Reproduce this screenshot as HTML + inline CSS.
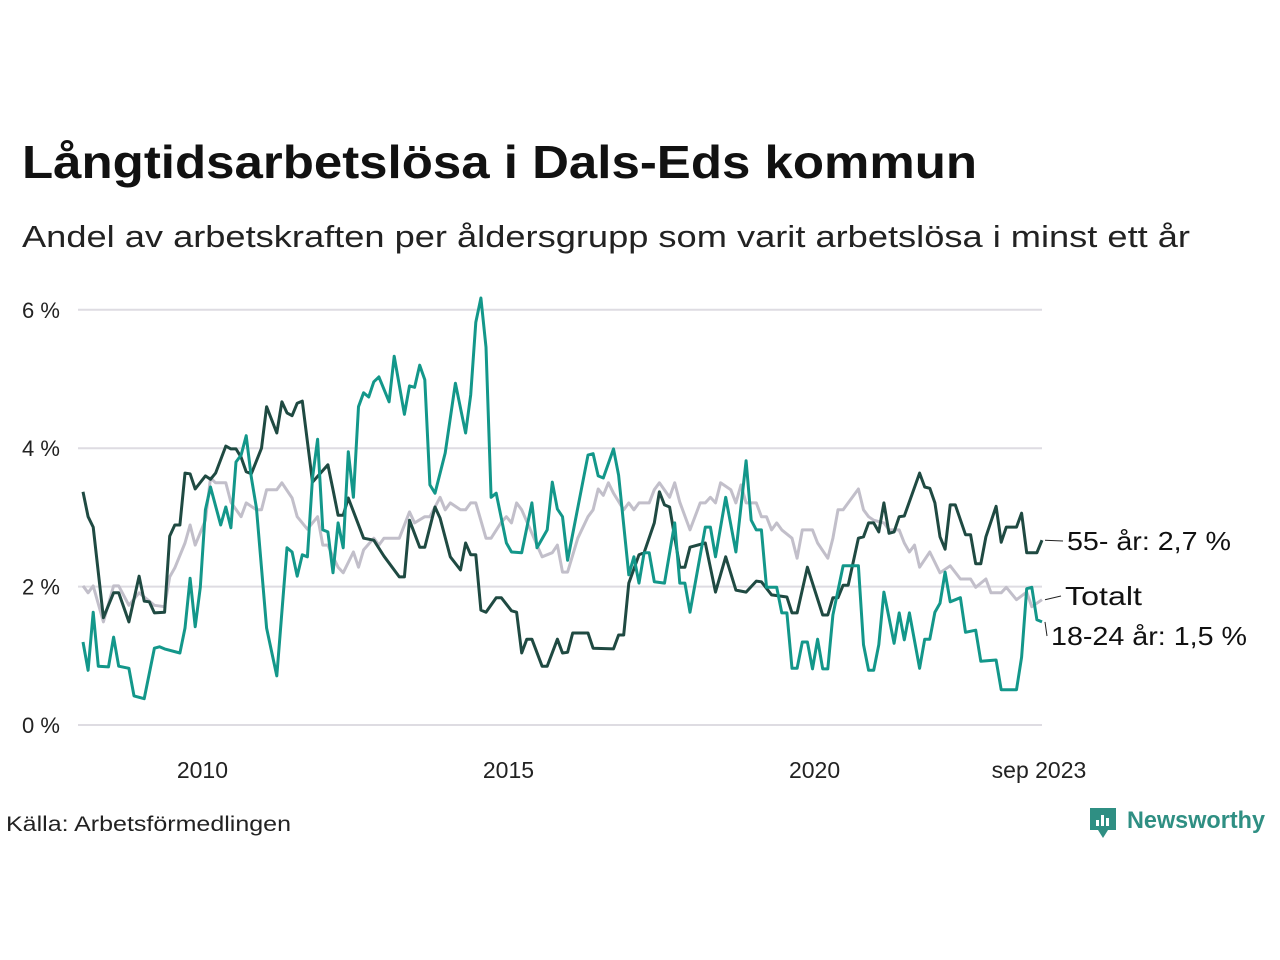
<!DOCTYPE html>
<html><head><meta charset="utf-8">
<style>
html,body{margin:0;padding:0;background:#fff;}
svg{display:block;font-family:"Liberation Sans",sans-serif;}
</style></head>
<body>
<svg id="chart" width="1280" height="960" viewBox="0 0 1280 960">
<text x="22" y="178" font-size="46" font-weight="bold" fill="#111" textLength="955" lengthAdjust="spacingAndGlyphs">Långtidsarbetslösa i Dals-Eds kommun</text>
<text x="22" y="247" font-size="31" fill="#222" textLength="1168" lengthAdjust="spacingAndGlyphs">Andel av arbetskraften per åldersgrupp som varit arbetslösa i minst ett år</text>
<g id="grid"></g>
<g id="axes"></g>
<g id="series"></g>
<g id="labels"></g>
<text x="6" y="831" font-size="21" fill="#222" textLength="285" lengthAdjust="spacingAndGlyphs">Källa: Arbetsförmedlingen</text>
<g>
  <path d="M1090 808 h26 v22 h-8 l-5 8 l-5 -8 h-8 z" fill="#2f8f83"/>
  <rect x="1096" y="820" width="3" height="6" fill="#fff"/>
  <rect x="1101" y="815" width="3" height="11" fill="#fff"/>
  <rect x="1106" y="818" width="3" height="8" fill="#fff"/>
  <text x="1127" y="828" font-size="24" font-weight="bold" fill="#2f8f83" textLength="138" lengthAdjust="spacingAndGlyphs">Newsworthy</text>
</g>
<script>
const yTicks=[0,2,4,6];
const yTickLabels=["0 %","2 %","4 %","6 %"];
const xTickMonths=[24,84,144,188];
const xTickLabels=["2010","2015","2020","sep 2023"];
const monthsOld=[0,1,2,4,6,7,9,11,12,13,14,16,17,18,19,20,21,22,24,25,26,28,29,30,31,32,33,35,36,38,39,40,41,42,43,45,48,49,50,51,52,55,57,59,62,63,64,66,67,69,70,72,74,75,76,77,78,79,81,82,84,85,86,87,88,90,91,93,94,95,96,99,100,104,105,106,107,109,110,112,113,114,115,117,118,119,122,124,126,128,130,132,133,135,138,139,140,142,145,146,147,148,149,150,152,153,154,155,156,157,158,159,160,161,164,165,166,167,168,169,170,171,173,174,175,176,177,179,180,181,183,184,185,187,188];
const valuesOld=[3.37,3.01,2.86,1.55,1.91,1.91,1.49,2.15,1.79,1.78,1.62,1.63,2.73,2.89,2.89,3.64,3.63,3.41,3.60,3.55,3.64,4.03,3.99,3.99,3.87,3.66,3.63,4.00,4.60,4.22,4.67,4.51,4.47,4.65,4.68,3.51,3.76,3.40,3.03,3.03,3.28,2.70,2.67,2.44,2.14,2.14,2.96,2.57,2.57,3.15,2.99,2.43,2.24,2.63,2.46,2.46,1.66,1.63,1.84,1.84,1.65,1.63,1.04,1.24,1.24,0.85,0.85,1.24,1.04,1.05,1.33,1.33,1.11,1.10,1.30,1.30,2.05,2.46,2.49,2.92,3.37,3.18,3.15,2.28,2.28,2.57,2.63,1.92,2.43,1.95,1.92,2.08,2.07,1.88,1.85,1.62,1.62,2.28,1.59,1.59,1.84,1.84,2.02,2.02,2.70,2.72,2.92,2.92,2.79,3.21,2.77,2.79,3.01,3.02,3.64,3.44,3.42,3.21,2.72,2.54,3.18,3.18,2.75,2.75,2.33,2.33,2.72,3.16,2.64,2.86,2.86,3.06,2.49,2.49,2.67];
const monthsTotal=[0,1,2,4,6,7,9,11,14,16,17,18,20,21,22,24,25,26,28,29,31,32,34,35,36,38,39,41,42,44,46,47,48,49,50,51,53,54,55,57,58,59,62,64,65,67,68,70,71,72,74,75,76,77,79,80,82,83,84,85,86,90,92,93,94,95,97,99,100,101,102,103,104,106,107,108,109,111,112,113,115,116,117,119,121,122,123,124,125,127,128,129,130,132,133,134,135,136,137,139,140,141,143,144,146,147,148,149,152,153,154,155,157,158,160,161,162,163,164,166,168,170,172,174,175,177,178,180,181,183,185,186,188];
const valuesTotal=[2.01,1.91,2.01,1.49,2.01,2.01,1.73,1.91,1.73,1.71,2.14,2.27,2.63,2.89,2.60,2.96,3.57,3.50,3.50,3.22,3.01,3.21,3.11,3.11,3.40,3.40,3.50,3.28,3.01,2.83,3.01,2.60,2.60,2.43,2.28,2.20,2.50,2.28,2.53,2.70,2.60,2.70,2.70,3.08,2.92,3.01,3.01,3.29,3.11,3.21,3.11,3.11,3.21,3.21,2.70,2.70,2.93,3.01,2.92,3.21,3.11,2.43,2.49,2.60,2.21,2.21,2.70,3.01,3.11,3.41,3.32,3.50,3.35,3.11,3.21,3.11,3.21,3.21,3.40,3.50,3.29,3.50,3.22,2.82,3.21,3.21,3.29,3.21,3.50,3.40,3.21,3.47,3.21,3.21,3.01,3.01,2.82,2.92,2.82,2.70,2.41,2.82,2.82,2.63,2.41,2.70,3.11,3.11,3.41,3.11,3.01,2.96,2.92,2.82,2.82,2.63,2.50,2.60,2.28,2.50,2.20,2.30,2.11,2.11,1.99,2.11,1.91,1.91,1.99,1.81,1.92,1.71,1.81];
const monthsYoung=[0,1,2,3,5,6,7,9,10,12,14,15,16,19,20,21,22,23,24,25,27,28,29,30,31,32,33,34,36,38,40,41,42,43,44,45,46,47,48,49,50,51,52,53,54,55,56,57,58,60,61,63,64,65,66,67,68,69,71,73,75,76,77,78,79,80,81,83,84,86,88,89,91,92,93,94,95,99,100,101,102,104,105,107,108,109,110,111,112,114,116,117,118,119,122,123,124,126,128,130,131,132,133,134,136,137,138,139,140,141,142,143,144,145,146,147,149,152,153,154,155,156,157,159,160,161,162,164,165,166,167,168,169,170,172,173,175,176,179,180,183,184,185,186,187,188];
const valuesYoung=[1.20,0.79,1.63,0.85,0.84,1.27,0.85,0.82,0.42,0.38,1.11,1.13,1.10,1.04,1.40,2.12,1.42,1.99,3.11,3.44,2.89,3.15,2.85,3.80,3.90,4.18,3.58,3.14,1.40,0.71,2.56,2.50,2.15,2.46,2.43,3.57,4.13,2.82,2.79,2.20,2.92,2.56,3.95,3.29,4.60,4.80,4.74,4.96,5.03,4.67,5.33,4.49,4.90,4.88,5.20,4.99,3.47,3.35,3.93,4.94,4.22,4.77,5.82,6.17,5.46,3.29,3.35,2.63,2.50,2.49,3.21,2.56,2.82,3.51,3.12,3.01,2.38,3.90,3.92,3.60,3.57,3.99,3.61,2.17,2.43,2.05,2.49,2.49,2.07,2.05,2.92,2.05,2.05,1.63,2.86,2.86,2.43,3.29,2.50,3.82,2.96,2.82,2.82,1.99,1.99,1.62,1.62,0.82,0.82,1.20,1.20,0.81,1.24,0.81,0.81,1.59,2.30,2.30,1.16,0.79,0.79,1.16,1.92,1.18,1.62,1.23,1.62,0.82,1.24,1.24,1.63,1.76,2.21,1.78,1.84,1.34,1.37,0.92,0.94,0.51,0.51,0.98,1.97,1.99,1.52,1.49];

const NS='http://www.w3.org/2000/svg';
const X0=83,X1=1042,M0=0,M1=188,Y0=725,YPER=69.2;
function xScale(m){return X0+(m-M0)*(X1-X0)/(M1-M0);}
function yScale(v){return Y0-v*YPER;}
function mk(tag,attrs,parent){const e=document.createElementNS(NS,tag);for(const k in attrs)e.setAttribute(k,attrs[k]);parent.appendChild(e);return e;}
const grid=document.getElementById('grid'),axes=document.getElementById('axes'),series=document.getElementById('series'),labels=document.getElementById('labels');
yTicks.forEach((t,i)=>{
  const l=mk('line',{x1:78,x2:1042,y1:yScale(t),y2:yScale(t),stroke:'#dedce2','stroke-width':2},grid);
  
  
  const tx=mk('text',{x:22,y:yScale(t)+8,'font-size':22,fill:'#222'},axes);
  tx.textContent=yTickLabels[i];
  
  
});
xTickMonths.forEach((m,i)=>{
  const tx=mk('text',{x:xScale(m)-3,y:778,'font-size':23,fill:'#222','text-anchor':'middle'},axes);
  tx.textContent=xTickLabels[i];
  
  
});
function line(ms,vs,color,name){
  const d=ms.map((m,i)=>(i?'L':'M')+xScale(m).toFixed(1)+' '+yScale(vs[i]).toFixed(1)).join(' ');
  const p=mk('path',{d:d,fill:'none',stroke:color,'stroke-width':3,'stroke-linejoin':'round'},series);
  
  
}
line(monthsTotal,valuesTotal,'#c2bfca','line-totalt');
line(monthsOld,valuesOld,'#1f4a42','line-55-plus');
line(monthsYoung,valuesYoung,'#13978a','line-18-24');
function lab(txt,y,ly,x,name,w){
  const l=mk('line',{x1:1045,x2:x-4,y1:ly,y2:y-9,stroke:'#222','stroke-width':1},labels);
  
  
  const t=mk('text',{x:x,y:y,'font-size':26,fill:'#111',textLength:w,lengthAdjust:'spacingAndGlyphs'},labels);
  t.textContent=txt;
  
  
}
lab('55- år: 2,7 %',550,yScale(valuesOld[valuesOld.length-1]),1067,'label-55-plus',164);
lab('Totalt',605,yScale(valuesTotal[valuesTotal.length-1]),1065,'label-totalt',77);
lab('18-24 år: 1,5 %',645,yScale(valuesYoung[valuesYoung.length-1]),1051,'label-18-24',196);
</script>
</svg>
</body></html>
